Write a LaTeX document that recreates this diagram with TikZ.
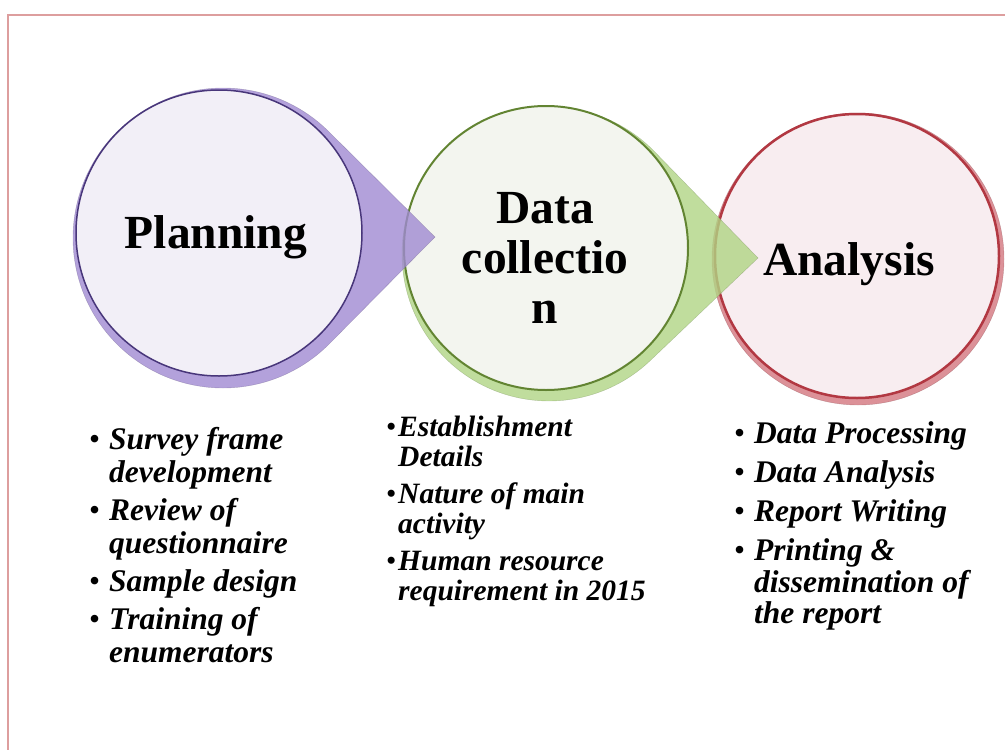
\documentclass[tikz,border=0pt]{standalone}
\usepackage{fontspec}
\setmainfont{Liberation Serif}
\usepackage{tikz}
\usetikzlibrary{calc}
\usepackage{xcolor}

\definecolor{framepink}{RGB}{221,158,158}
\definecolor{planfill}{RGB}{160,138,210}
\definecolor{planin}{RGB}{242,239,247}
\definecolor{planline}{RGB}{72,54,122}
\definecolor{collfill}{RGB}{176,213,132}
\definecolor{collin}{RGB}{243,245,239}
\definecolor{collline}{RGB}{98,132,50}
\definecolor{analfill}{RGB}{214,126,134}
\definecolor{analin}{RGB}{248,237,240}
\definecolor{analline}{RGB}{178,56,66}

\tikzset{
  head/.style={font=\fontsize{47.5}{50}\selectfont\bfseries, inner sep=0pt},
  bullets/.style={font=\fontsize{31.5}{33}\selectfont\bfseries\itshape, inner sep=0pt, anchor=north west},
}
\newcommand{\blt}{{\normalfont\textbullet}}

\begin{document}
\begin{tikzpicture}[x=1pt,y=1pt]
\useasboundingbox (0,0) rectangle (1005,-750);
\draw [framepink, line width=2] (8,-750) -- (8,-15) -- (1005,-15);

\coordinate (plan) at (219,-233);
\coordinate (collect) at (546,-248);
\coordinate (analysis) at (857,-256);

% last circle first, so the pointers lie over the next one
\filldraw [fill=analfill, draw=analfill!70!black, fill opacity=0.85, draw opacity=0.5] (858,-259) circle[radius=146];
\filldraw [fill=analin, draw=analline, line width=2.5] (analysis) circle[radius=142];

\filldraw [fill=collfill, draw=collfill!60!black, fill opacity=0.8, draw opacity=0.4] (758,-258) -- ($(549,-254)+(44.2:147)$) arc[start angle=44.2, end angle=313.6, radius=147] -- cycle;
\filldraw [fill=collin, draw=collline, line width=2] (collect) circle[radius=142];

\filldraw [fill=planfill, draw=planfill!60!black, fill opacity=0.8, draw opacity=0.4] (435,-237) -- ($(223,-238)+(45:150)$) arc[start angle=45, end angle=315, radius=150] -- cycle;
\filldraw [fill=planin, draw=planline, line width=1.5] (plan) circle[radius=143];

\node [head, anchor=base] (plantitle) at (216,-248) {Planning};
\node [head, align=center] (colltitle) at (545,-258) {Data\\collectio\\n};
\node [head, anchor=base] (analtitle) at (849,-275) {Analysis};

\node [bullets] (planlist) at (89,-426) {\begin{tabular}{@{}p{20pt}@{}l@{}}
\blt & Survey frame\\
 & development\\[5pt]
\blt & Review of\\
 & questionnaire\\[5pt]
\blt & Sample design\\[5pt]
\blt & Training of\\
 & enumerators
\end{tabular}};

\node [bullets, font=\fontsize{29.5}{29.5}\selectfont\bfseries\itshape] (colllist) at (386,-416) {\begin{tabular}{@{}p{12pt}@{}l@{}}
\blt & Establishment\\
 & Details\\[8pt]
\blt & Nature of main\\
 & activity\\[8pt]
\blt & Human resource\\
 & requirement in 2015
\end{tabular}};

\node [bullets, font=\fontsize{31.5}{31}\selectfont\bfseries\itshape] (anallist) at (734,-421) {\begin{tabular}{@{}p{20pt}@{}l@{}}
\blt & Data Processing\\[8pt]
\blt & Data Analysis\\[8pt]
\blt & Report Writing\\[8pt]
\blt & Printing \&\\
 & dissemination of\\
 & the report
\end{tabular}};
\end{tikzpicture}
\end{document}
